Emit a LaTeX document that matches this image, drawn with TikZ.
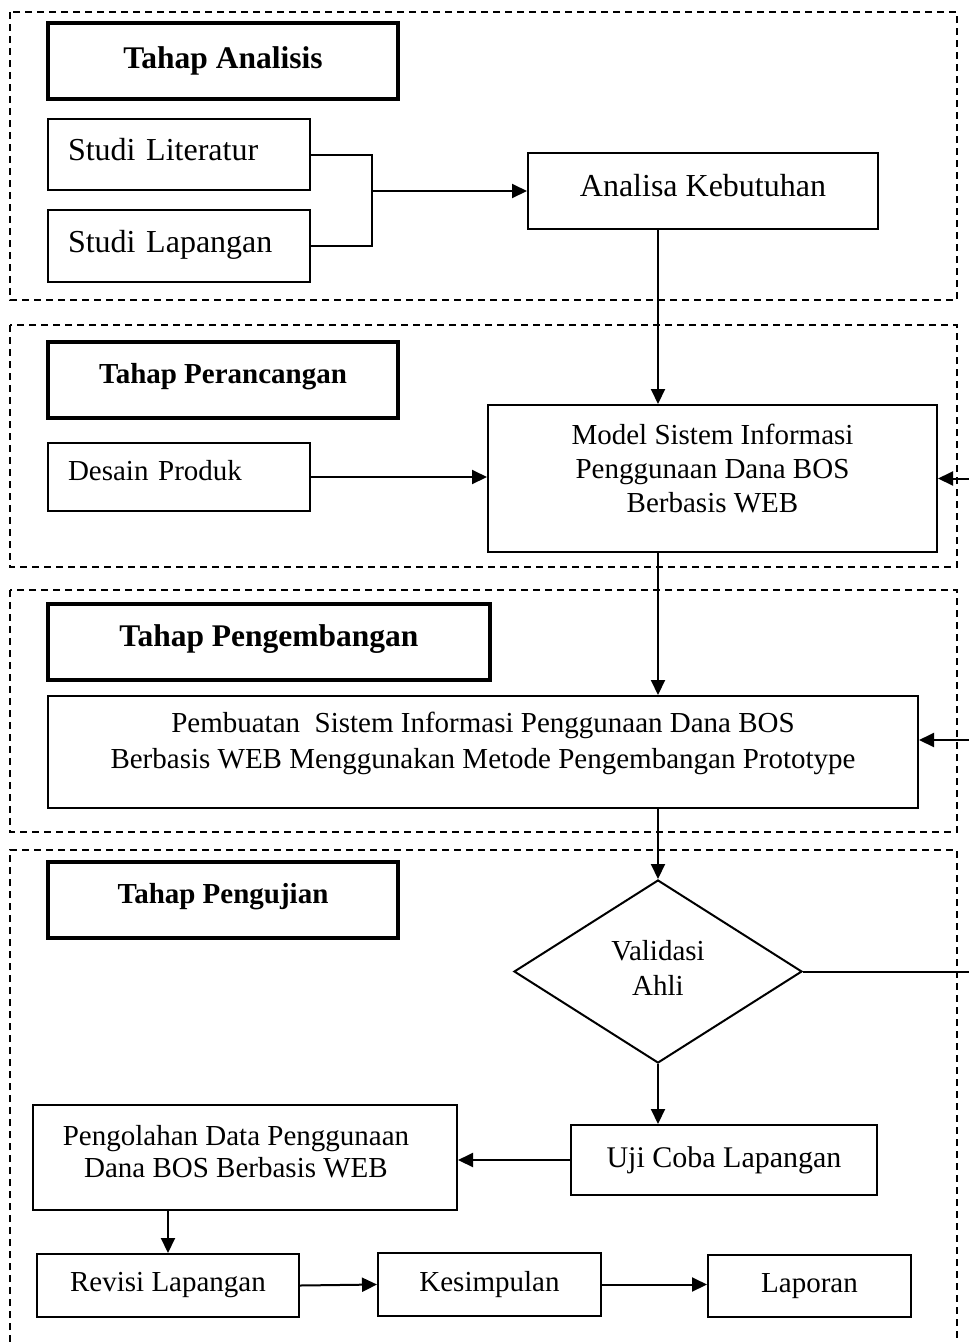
\documentclass[tikz,border=0pt]{standalone}
\usepackage{fontspec}
\setmainfont{Liberation Serif}
\usepackage{tikz}
\usetikzlibrary{positioning, arrows.meta, shapes.geometric}
\tikzstyle{line} = [draw, line width=2pt, -{Triangle[length=15pt, width=14pt]}]
\tikzstyle{phase} = [draw, line width=1.6pt, dash pattern=on 7pt off 5pt]
\tikzstyle{stage} = [rectangle, draw, line width=4pt, text centered,
    minimum width=350pt, minimum height=76pt, font=\fontsize{30}{36}\selectfont\bfseries]
\tikzstyle{block} = [rectangle, draw, line width=2pt, align=center,
    font=\fontsize{29}{34}\selectfont]
\tikzstyle{blockleft} = [rectangle, draw, line width=2pt, align=left,
    inner xsep=20pt, text width=222pt, font=\fontsize{32}{38}\selectfont]
\tikzstyle{decision} = [diamond, draw, line width=2pt, align=center,
    minimum width=288pt, minimum height=183pt, inner sep=0pt, font=\fontsize{29}{35}\selectfont]

\begin{document}
\begin{tikzpicture}[x=1pt, y=-1pt]
            \useasboundingbox (0,0) rectangle (969,1342);

            \draw[phase] (10,12) rectangle (957,300);
            \draw[phase] (10,325) rectangle (957,567);
            \draw[phase] (10,590) rectangle (957,832);
            \draw[phase] (10,1342) |- (957,850) -- (957,1342);

            \node[stage, font=\fontsize{31.5}{36}\selectfont\bfseries] (analisis) at (223,61) {Tahap Analisis};
            \node[blockleft, minimum height=71pt, text depth=10pt] (studilit) at (179,154.5) {Studi Literatur};
            \node[blockleft, minimum height=72pt, text depth=10pt] (studilap) at (179,246) {Studi Lapangan};
            \node[block, font=\fontsize{32}{38}\selectfont, minimum width=350pt, minimum height=76pt, text depth=12pt] (analisa) at (703,191) {Analisa Kebutuhan};

            \node[stage, font=\fontsize{29}{34}\selectfont\bfseries, text depth=14pt] (perancangan) at (223,380) {Tahap Perancangan};
            \node[blockleft, font=\fontsize{29}{34}\selectfont, minimum height=68pt, text depth=14pt] (desain) at (179,477) {Desain Produk};
            \node[block, minimum width=449pt, minimum height=147pt, text depth=20pt] (model) at (712.5,478.5) {Model Sistem Informasi\\Penggunaan Dana BOS\\Berbasis WEB};

            \node[stage, minimum width=442pt, font=\fontsize{31.5}{36}\selectfont\bfseries, text depth=12pt] (pengembangan) at (269,642) {Tahap Pengembangan};
            \node[block, minimum width=870pt, minimum height=112pt, font=\fontsize{29}{36}\selectfont, text depth=24pt] (pembuatan) at (483,752) {Pembuatan~ Sistem Informasi Penggunaan Dana BOS\\Berbasis WEB Menggunakan Metode Pengembangan Prototype};

            \node[stage, font=\fontsize{29}{34}\selectfont\bfseries, text depth=14pt] (pengujian) at (223,900) {Tahap Pengujian};
            \node[decision, text depth=8pt] (validasi) at (658,971.5) {Validasi\\Ahli};
            \node[block, font=\fontsize{30}{36}\selectfont, minimum width=306pt, minimum height=70pt] (ujicoba) at (724,1160) {Uji Coba Lapangan};
            \node[block, font=\fontsize{29}{32}\selectfont, minimum width=424pt, minimum height=105pt, text depth=12pt] (pengolahan) at (245,1157.5) {\hspace*{-18pt}Pengolahan Data Penggunaan\\\hspace*{-18pt}Dana BOS Berbasis WEB};
            \node[block, minimum width=262pt, minimum height=63pt] (revisi) at (168,1285.5) {Revisi Lapangan};
            \node[block, minimum width=223pt, minimum height=63pt] (kesimpulan) at (489.5,1284.5) {Kesimpulan};
            \node[block, minimum width=203pt, minimum height=62pt] (laporan) at (809.5,1286) {Laporan};

            \coordinate (join) at (372,191);
            \coordinate (spine) at (658,0);
            \coordinate (rim) at (969,0);

            \draw[line width=2pt] (studilit.east) -| (join) |- (studilap.east);
            \path [line] (join) -- (analisa.west);
            \path [line] (analisa.south -| spine) -- (model.north -| spine);
            \path [line] (desain.east) -- (desain.east -| model.west);
            \path [line] (model.east -| rim) -- (model.east);
            \path [line] (model.south -| spine) -- (pembuatan.north -| spine);
            \path [line] ([yshift=12pt]pembuatan.east -| rim) -- ([yshift=12pt]pembuatan.east);
            \path [line] (validasi.north |- pembuatan.south) -- (validasi.north);
            \draw[line width=2pt] (validasi.east) -- (validasi.east -| rim);
            \path [line] (validasi.south) -- (validasi.south |- ujicoba.north);
            \path [line] (ujicoba.west) -- (ujicoba.west -| pengolahan.east);
            \path [line] (revisi.north |- pengolahan.south) -- (revisi.north);
            \path [line] (revisi.east) -- (kesimpulan.west);
            \path [line] (kesimpulan.east) -- (kesimpulan.east -| laporan.west);
      \end{tikzpicture}
\end{document}
